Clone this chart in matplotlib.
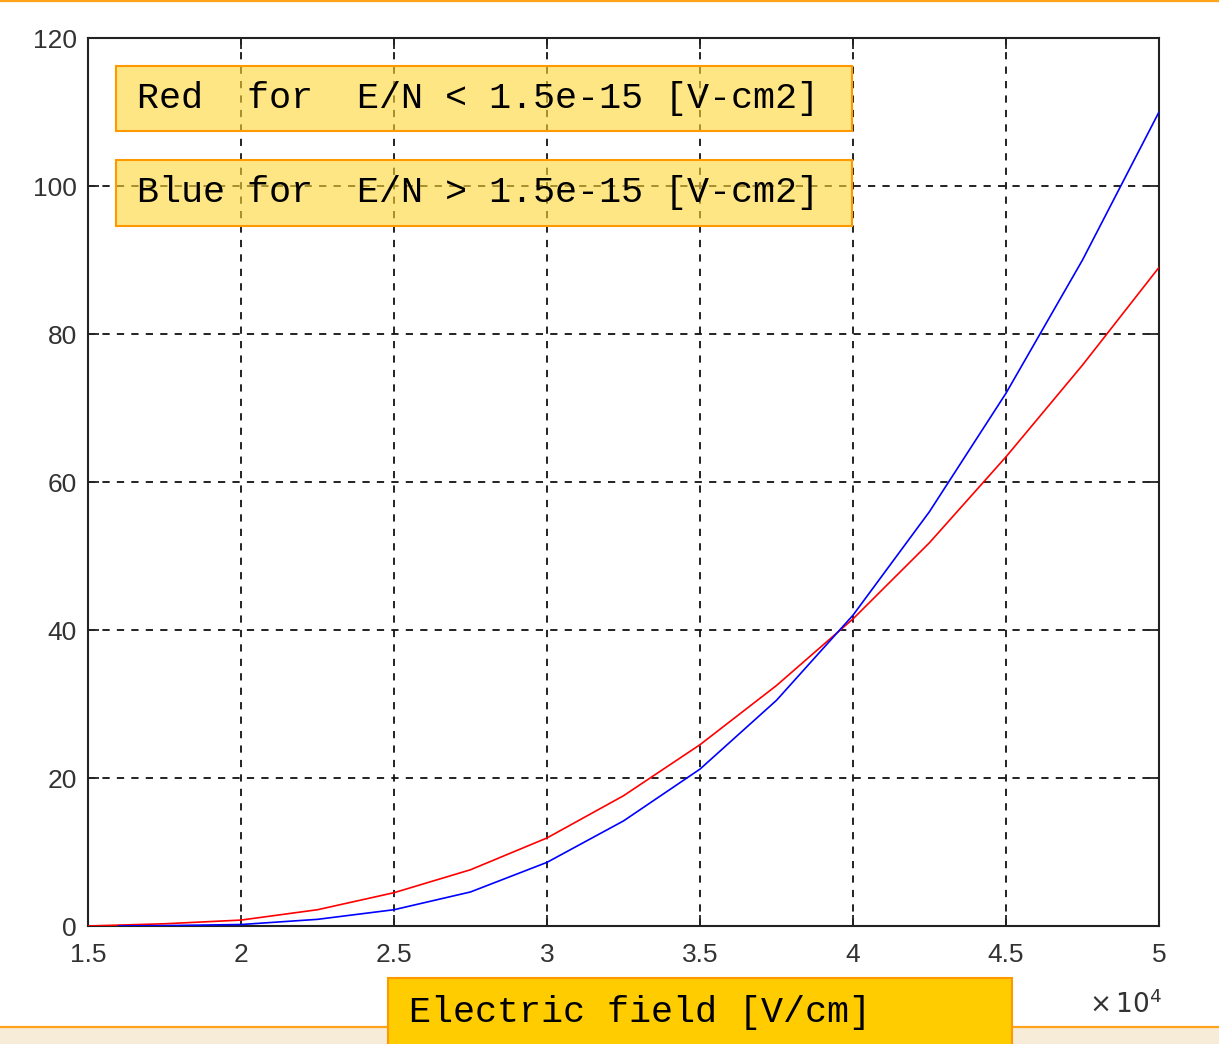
import matplotlib
matplotlib.use("Agg")
import matplotlib.pyplot as plt
from matplotlib.patches import Rectangle
from matplotlib.lines import Line2D

# ---- data (x in units of 1e4 V/cm) ----
red_x = [1.5, 1.75, 2.0, 2.25, 2.5, 2.75, 3.0, 3.25, 3.5, 3.75, 4.0, 4.25, 4.5, 4.75, 5.0]
red_y = [0.0, 0.3, 0.8, 2.2, 4.5, 7.6, 11.9, 17.6, 24.5, 32.5, 41.5, 51.8, 63.4, 75.8, 89.0]
blue_x = [1.6, 1.75, 2.0, 2.25, 2.5, 2.75, 3.0, 3.25, 3.5, 3.75, 4.0, 4.25, 4.5, 4.75, 5.0]
blue_y = [0.0, 0.05, 0.2, 0.9, 2.2, 4.6, 8.6, 14.2, 21.2, 30.5, 42.0, 56.0, 72.0, 90.0, 110.0]
x_ticks = [1.5, 2, 2.5, 3, 3.5, 4, 4.5, 5]
x_ticklabels = ["1.5", "2", "2.5", "3", "3.5", "4", "4.5", "5"]
y_ticks = [0, 20, 40, 60, 80, 100, 120]
y_ticklabels = ["0", "20", "40", "60", "80", "100", "120"]
legend_lines = ["Red  for  E/N < 1.5e-15 [V-cm2]", "Blue for  E/N > 1.5e-15 [V-cm2]"]
xlabel_text = "Electric field [V/cm]"

W, H = 1219, 1044
fig = plt.figure(figsize=(W / 100, H / 100), dpi=100)
fig.patch.set_facecolor("white")

def fx(px):
    return px / W

def fy(py):
    return 1 - py / H

# background decorations (slide frame)
fig.patches.append(Rectangle((0, 0), 1, fy(1027), transform=fig.transFigure,
                             facecolor="#F6ECD8", edgecolor="none", zorder=0))
fig.add_artist(Line2D([0, 1], [fy(1026.5), fy(1026.5)], transform=fig.transFigure,
                      color="#FFA31A", lw=1.6, zorder=1))
fig.add_artist(Line2D([0, 1], [fy(1), fy(1)], transform=fig.transFigure,
                      color="#FFA31A", lw=1.6, zorder=1))

ax = fig.add_axes([fx(88), fy(926), fx(1159) - fx(88), fy(38) - fy(926)])
ax.plot(red_x, red_y, color="#FF0000", lw=1.2, zorder=3)
ax.plot(blue_x, blue_y, color="#0000FF", lw=1.2, zorder=3)

ax.set_xlim(1.5, 5)
ax.set_ylim(0, 120)
ax.set_xticks(x_ticks)
ax.set_xticklabels(x_ticklabels)
ax.set_yticks(y_ticks)
ax.set_yticklabels(y_ticklabels)
ax.tick_params(direction="in", length=8, width=1.3, top=True, right=True,
               labelsize=19, colors="#222222", pad=8)
ax.tick_params(axis="x", pad=12)
for lab in ax.get_xticklabels() + ax.get_yticklabels():
    lab.set_fontfamily("Liberation Sans")
    lab.set_color("#333333")
ax.grid(True, color="#111111", linestyle=(0, (4, 4)), lw=1.3)
for s in ax.spines.values():
    s.set_linewidth(1.5)
    s.set_color("#222222")

# exponent label
fig.text(fx(1089), fy(1004), r"$\times\,10^{4}$", fontsize=19, color="#333333",
         ha="left", va="center", family="Liberation Sans")

# legend boxes
box_y = [(66, 131), (160, 226)]
for (y0, y1), txt in zip(box_y, legend_lines):
    fig.patches.append(Rectangle((fx(116), fy(y1)), fx(852) - fx(116), fy(y0) - fy(y1),
                                 transform=fig.transFigure,
                                 facecolor=(1.0, 0.84, 0.2, 0.6),
                                 edgecolor=(1.0, 0.6, 0.0, 1.0), lw=1.5, zorder=5))
    fig.text(fx(137), fy((y0 + y1) / 2), txt, family="Liberation Mono", fontsize=26.5,
             color="black", ha="left", va="center", zorder=6)

# x label box
fig.patches.append(Rectangle((fx(388), fy(1050)), fx(1012) - fx(388), fy(978) - fy(1050),
                             transform=fig.transFigure, facecolor="#FFCC00",
                             edgecolor="#FF9900", lw=1.5, zorder=5))
fig.text(fx(409), fy(1012), xlabel_text, family="Liberation Mono", fontsize=26.5,
         color="black", ha="left", va="center", zorder=6)

fig.savefig("out.png", dpi=100)
